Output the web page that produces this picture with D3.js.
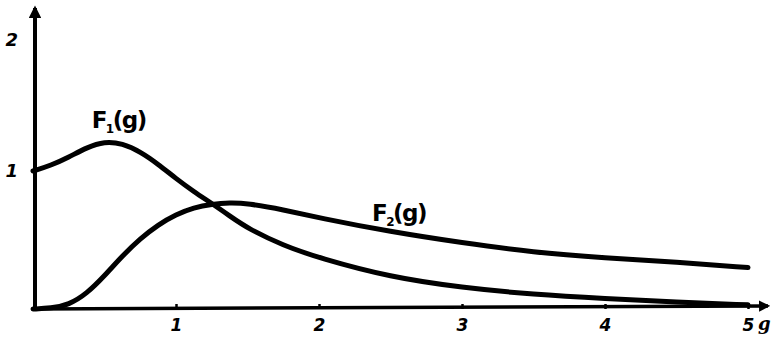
<!DOCTYPE html>
<html>
<head>
<meta charset="utf-8">
<script src="https://cdn.jsdelivr.net/npm/d3@7"></script>
<style>
  html, body { margin: 0; padding: 0; background: #fff; }
  svg { display: block; }
  .tick text { font-family: "DejaVu Sans", sans-serif; font-weight: bold; font-style: italic; }
</style>
</head>
<body>
<svg id="chart"></svg>
<script>
// F1(g) and F2(g)
const gValues = [0, 0.125, 0.25, 0.375, 0.5, 0.625, 0.75, 0.875, 1, 1.125, 1.25, 1.375, 1.5, 1.75, 2, 2.5, 3, 3.5, 4, 4.5, 5];
const f1Values = [1.00, 1.04, 1.10, 1.17, 1.215, 1.20, 1.14, 1.05, 0.945, 0.85, 0.765, 0.675, 0.585, 0.46, 0.37, 0.23, 0.155, 0.105, 0.075, 0.05, 0.03];
const f2Values = [0.00, 0.005, 0.03, 0.11, 0.24, 0.385, 0.51, 0.61, 0.685, 0.735, 0.76, 0.77, 0.765, 0.72, 0.66, 0.56, 0.48, 0.41, 0.37, 0.34, 0.30];
const xTicks = [1, 2, 3, 4, 5];
const yTicks = [1, 2];

(() => {
  const width = 772, height = 337;
  const svg = d3.select("#chart").attr("width", width).attr("height", height);

  const x = d3.scaleLinear().domain([0, 5]).range([33, 748]);
  const y = d3.scaleLinear().domain([0, 2]).range([309, 33]);

  const INK = "#000";

  // axes
  const xAxis = d3.axisBottom(x)
    .tickValues(xTicks)
    .tickSizeInner(-5)
    .tickSizeOuter(0)
    .tickPadding(10)
    .tickFormat(d3.format("d"));

  const gx = svg.append("g")
    .attr("transform", `translate(0,${y(0)})`)
    .call(xAxis);
  gx.select(".domain").remove();
  gx.selectAll(".tick line").attr("stroke", INK).attr("stroke-width", 2.5);
  gx.selectAll(".tick text").attr("font-size", 17).attr("fill", INK);

  const yAxis = d3.axisLeft(y)
    .tickValues(yTicks)
    .tickSize(0)
    .tickPadding(17)
    .tickFormat(d3.format("d"));

  const gy = svg.append("g")
    .attr("transform", `translate(${x(0) + 2},0)`)
    .call(yAxis);
  gy.select(".domain").remove();
  gy.selectAll(".tick text").attr("font-size", 18).attr("fill", INK);
  gy.selectAll(".tick").filter(d => d === 2).attr("transform", `translate(0,${y(2) + 7})`);

  // axis lines with arrows
  const defs = svg.append("defs");
  defs.append("marker")
    .attr("id", "arrow")
    .attr("viewBox", "0 0 10 10")
    .attr("refX", 8).attr("refY", 5)
    .attr("markerWidth", 3.2).attr("markerHeight", 3.2)
    .attr("orient", "auto")
    .append("path")
    .attr("d", "M0,0 L10,5 L0,10 Z")
    .attr("fill", INK);

  svg.append("line")
    .attr("x1", x(0) + 2).attr("y1", y(0) + 1)
    .attr("x2", x(0) + 2).attr("y2", 8)
    .attr("stroke", INK).attr("stroke-width", 4)
    .attr("marker-end", "url(#arrow)");

  svg.append("line")
    .attr("x1", x(0)).attr("y1", y(0))
    .attr("x2", 768).attr("y2", y(0) - 3)
    .attr("stroke", INK).attr("stroke-width", 3.5)
    .attr("marker-end", "url(#arrow)");

  svg.append("text")
    .attr("x", 758).attr("y", 330)
    .attr("font-family", "DejaVu Serif, serif")
    .attr("font-style", "italic")
    .attr("font-weight", "bold")
    .attr("font-size", 18)
    .attr("fill", INK)
    .text("g");

  // curves
  const line = d3.line()
    .x(d => x(d[0]))
    .y(d => y(d[1]))
    .curve(d3.curveBasis);

  const series = [
    { name: "1", values: f1Values },
    { name: "2", values: f2Values }
  ];

  svg.append("g")
    .selectAll("path")
    .data(series)
    .join("path")
    .attr("d", s => line(gValues.map((g, i) => [g, s.values[i]])))
    .attr("fill", "none")
    .attr("stroke", INK)
    .attr("stroke-width", 5)
    .attr("stroke-linecap", "round")
    .attr("stroke-linejoin", "round");

  // curve labels F1(g), F2(g)
  const labels = [
    { sub: "1", g: 0.41, v: 1.31 },
    { sub: "2", g: 2.37, v: 0.64 }
  ];

  labels.forEach(l => {
    const t = svg.append("text")
      .attr("x", x(l.g)).attr("y", y(l.v))
      .attr("font-family", "DejaVu Sans, sans-serif")
      .attr("font-weight", "bold")
      .attr("font-size", 23)
      .attr("letter-spacing", -1.5)
      .attr("fill", INK);
    t.append("tspan").text("F");
    t.append("tspan").attr("font-size", 12).attr("dy", 5).text(l.sub);
    t.append("tspan").attr("dy", -5).text("(g)");
  });
})();
</script>
</body>
</html>
